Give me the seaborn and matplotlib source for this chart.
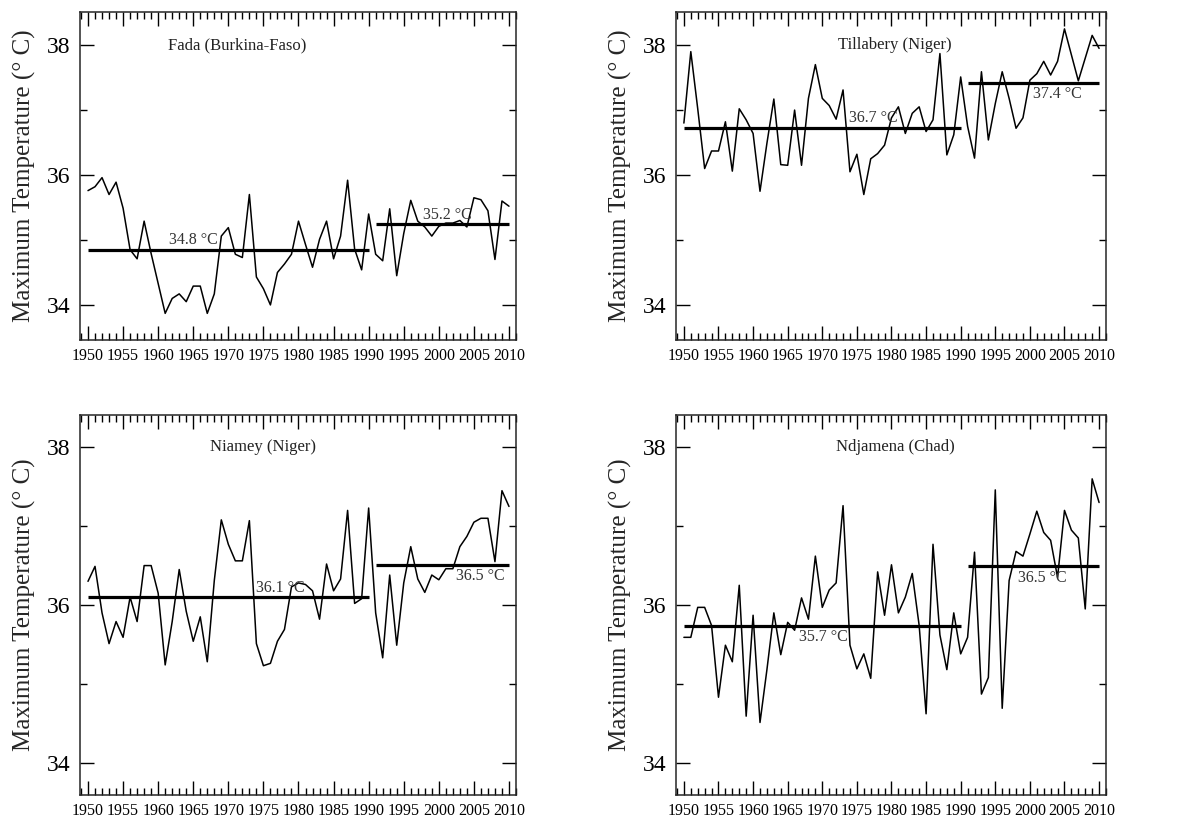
import matplotlib
matplotlib.use("Agg")
import matplotlib.pyplot as plt
import seaborn as sns
import pandas as pd
from matplotlib.ticker import MultipleLocator

# yearly maximum temperature, 1950-2010
years = list(range(1950, 2011))

fada = [35.76, 35.82, 35.96, 35.70, 35.89, 35.49, 34.85, 34.71, 35.29, 34.79,
        34.33, 33.87, 34.10, 34.17, 34.05, 34.29, 34.29, 33.87, 34.17, 35.06,
        35.19, 34.78, 34.73, 35.70, 34.43, 34.25, 34.00, 34.50, 34.63, 34.78,
        35.29, 34.93, 34.58, 35.01, 35.29, 34.71, 35.06, 35.92, 34.86, 34.54,
        35.40, 34.78, 34.68, 35.48, 34.45, 35.10, 35.61, 35.29, 35.20, 35.06,
        35.21, 35.26, 35.26, 35.30, 35.20, 35.65, 35.62, 35.45, 34.70, 35.60,
        35.52]

tillabery = [36.80, 37.90, 37.02, 36.10, 36.37, 36.37, 36.82, 36.06, 37.02, 36.85,
             36.64, 35.75, 36.49, 37.17, 36.16, 36.15, 37.00, 36.15, 37.18, 37.70,
             37.18, 37.07, 36.86, 37.31, 36.05, 36.32, 35.70, 36.25, 36.33, 36.46,
             36.88, 37.05, 36.64, 36.95, 37.05, 36.67, 36.85, 37.87, 36.31, 36.62,
             37.51, 36.75, 36.26, 37.59, 36.54, 37.10, 37.59, 37.18, 36.72, 36.88,
             37.46, 37.56, 37.75, 37.54, 37.75, 38.25, 37.85, 37.45, 37.80, 38.15,
             37.95]

niamey = [36.30, 36.49, 35.90, 35.51, 35.79, 35.59, 36.10, 35.79, 36.50, 36.50,
          36.15, 35.24, 35.79, 36.45, 35.92, 35.54, 35.85, 35.28, 36.31, 37.08,
          36.77, 36.56, 36.56, 37.07, 35.51, 35.23, 35.26, 35.54, 35.69, 36.23,
          36.28, 36.26, 36.18, 35.82, 36.52, 36.18, 36.33, 37.20, 36.02, 36.08,
          37.23, 35.90, 35.33, 36.38, 35.49, 36.28, 36.74, 36.33, 36.16, 36.38,
          36.32, 36.46, 36.46, 36.74, 36.87, 37.05, 37.10, 37.10, 36.55, 37.45,
          37.25]

ndjamena = [35.59, 35.59, 35.97, 35.97, 35.74, 34.83, 35.49, 35.28, 36.25, 34.59,
            35.87, 34.51, 35.18, 35.90, 35.37, 35.78, 35.68, 36.09, 35.82, 36.62,
            35.97, 36.19, 36.28, 37.26, 35.49, 35.19, 35.38, 35.07, 36.42, 35.87,
            36.51, 35.90, 36.10, 36.40, 35.74, 34.62, 36.77, 35.62, 35.18, 35.90,
            35.38, 35.59, 36.67, 34.87, 35.08, 37.46, 34.69, 36.31, 36.68, 36.62,
            36.90, 37.19, 36.92, 36.82, 36.35, 37.20, 36.95, 36.85, 35.95, 37.60,
            37.30]

stations = ["Fada (Burkina-Faso)", "Tillabery (Niger)", "Niamey (Niger)", "Ndjamena (Chad)"]
series = [fada, tillabery, niamey, ndjamena]

# mean levels for the two periods 1950-1990 and 1991-2010
periods = [(1950, 1990), (1991, 2010)]
fada_means = [34.85, 35.24]
tillabery_means = [36.73, 37.41]
niamey_means = [36.10, 36.51]
ndjamena_means = [35.73, 36.49]
means = [fada_means, tillabery_means, niamey_means, ndjamena_means]
mean_labels = [["34.8 °C", "35.2 °C"], ["36.7 °C", "37.4 °C"],
               ["36.1 °C", "36.5 °C"], ["35.7 °C", "36.5 °C"]]

# label placement: (x year, above/below line)
label_pos = [[(1961.5, "above"), (1997.8, "above")],
             [(1973.8, "above"), (2000.4, "below")],
             [(1974.0, "above"), (2002.5, "below")],
             [(1966.7, "below"), (1998.3, "below")]]
title_x = [1971.3, 1980.5, 1975.0, 1980.5]

sns.set_style("ticks")
plt.rcParams['font.family'] = ['Liberation Serif', 'DejaVu Serif']

W, H = 1179, 826
fig = plt.figure(figsize=(W / 100, H / 100), dpi=100)

# axes boxes in pixels: left, top, right, bottom, and y-range of each row
boxes = [(80, 12, 516, 340), (676, 12, 1106, 340),
         (80, 415, 516, 795), (676, 415, 1106, 795)]
ylims = [(33.46, 38.51), (33.46, 38.51), (33.59, 38.41), (33.59, 38.41)]

for i, (name, vals) in enumerate(zip(stations, series)):
    l, t, r, b = boxes[i]
    ax = fig.add_axes([l / W, 1 - b / H, (r - l) / W, (b - t) / H])
    df = pd.DataFrame({"year": years, "tmax": vals})
    sns.lineplot(data=df, x="year", y="tmax", ax=ax, color="black", lw=1.1)

    for (start, end), lev, lab, (lx, side) in zip(periods, means[i], mean_labels[i], label_pos[i]):
        ax.hlines(lev, start, end, color="black", lw=2.3)
        if side == "above":
            ax.text(lx, lev + 0.02, lab, ha="left", va="bottom", fontsize=11.5, color="#333333")
        else:
            ax.text(lx, lev - 0.04, lab, ha="left", va="top", fontsize=11.5, color="#333333")

    ax.text(title_x[i], 38.0, name, ha="center", va="center", fontsize=12, color="#222222")

    ax.set_xlim(1948.86, 2011.0)
    ax.set_ylim(*ylims[i])
    ax.xaxis.set_major_locator(MultipleLocator(5))
    ax.xaxis.set_minor_locator(MultipleLocator(1))
    ax.yaxis.set_major_locator(MultipleLocator(2))
    ax.yaxis.set_minor_locator(MultipleLocator(1))
    ax.tick_params(which="both", direction="in", top=True, right=True, width=1.0, colors="black")
    ax.tick_params(which="major", length=10)
    ax.tick_params(which="minor", length=5)
    ax.tick_params(axis="x", which="major", labelsize=11.5, pad=6)
    ax.tick_params(axis="y", which="major", labelsize=17, pad=7)
    for s in ax.spines.values():
        s.set_linewidth(1.1)
    ax.set_xlabel("")
    ax.set_ylabel("Maximum Temperature (° C)", fontsize=18, labelpad=8)

fig.savefig("out.png", dpi=100)
